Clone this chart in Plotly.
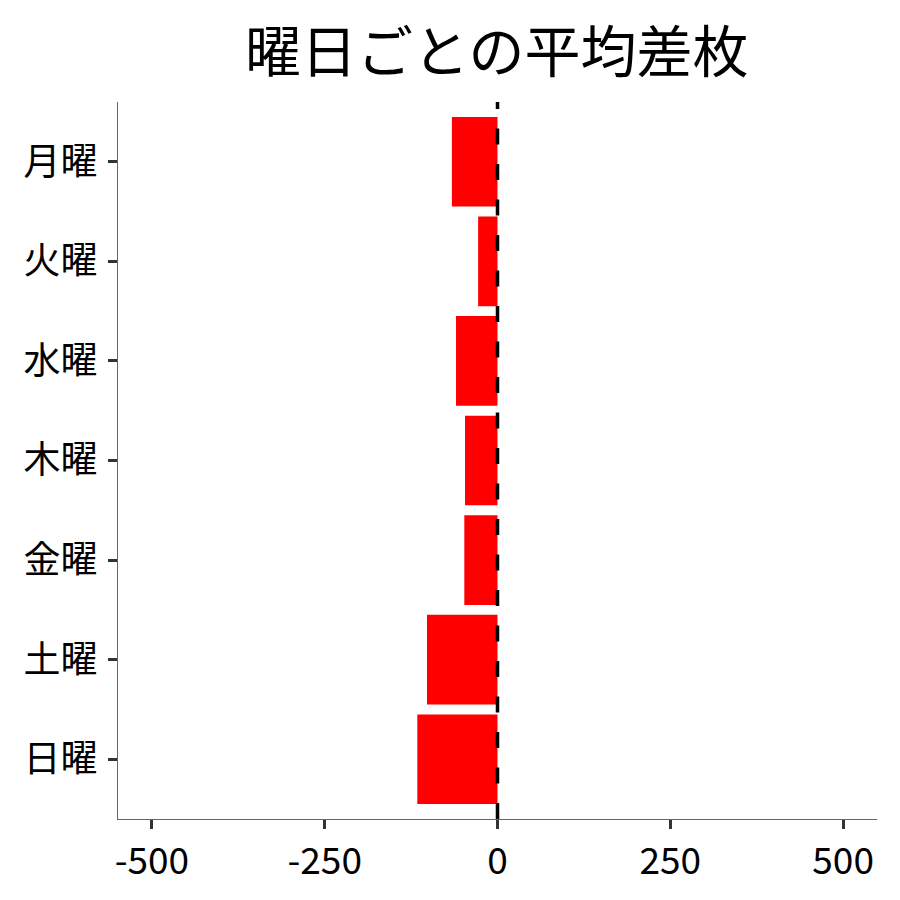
import plotly.graph_objects as go

days = ["月曜", "火曜", "水曜", "木曜", "金曜", "土曜", "日曜"]
avg_diff = [-66, -28, -60, -47, -48, -102, -116]
x_ticks = [-500, -250, 0, 250, 500]
x_tick_labels = ["-500", "-250", "0", "250", "500"]
title_text = "曜日ごとの平均差枚"

FONT = "Noto Sans CJK JP"

fig = go.Figure(
    go.Bar(
        x=avg_diff,
        y=days,
        orientation="h",
        marker=dict(color="#FF0000", line=dict(width=0)),
        width=0.9,
    )
)

fig.add_vline(x=0, line=dict(color="black", width=3.5, dash="16px,19.5px"))

fig.update_layout(
    width=900,
    height=900,
    paper_bgcolor="white",
    plot_bgcolor="white",
    margin=dict(l=110, r=31, t=94, b=89),
    font=dict(family=FONT, size=37, color="black"),
    title=dict(
        text=title_text,
        x=0.543,
        xanchor="center",
        y=0.951,
        yanchor="middle",
        font=dict(family=FONT, size=56, color="black"),
    ),
    showlegend=False,
    bargap=0.1,
)

fig.update_xaxes(
    range=[-549, 549],
    tickvals=x_ticks,
    ticktext=x_tick_labels,
    showgrid=False,
    zeroline=False,
    showline=True,
    linecolor="#666666",
    linewidth=1.2,
    ticks="outside",
    ticklen=9,
    tickwidth=3,
    tickcolor="#333333",
    tickfont=dict(family=FONT, size=37, color="black"),
)

fig.update_yaxes(
    type="category",
    categoryorder="array",
    categoryarray=days,
    range=[6.6, -0.6],
    showgrid=False,
    zeroline=False,
    showline=True,
    linecolor="#666666",
    linewidth=1.2,
    ticks="outside",
    ticklen=9,
    tickwidth=3,
    tickcolor="#333333",
    ticklabelstandoff=3,
    tickfont=dict(family=FONT, size=37, color="black"),
)

fig.write_html("out.html")
